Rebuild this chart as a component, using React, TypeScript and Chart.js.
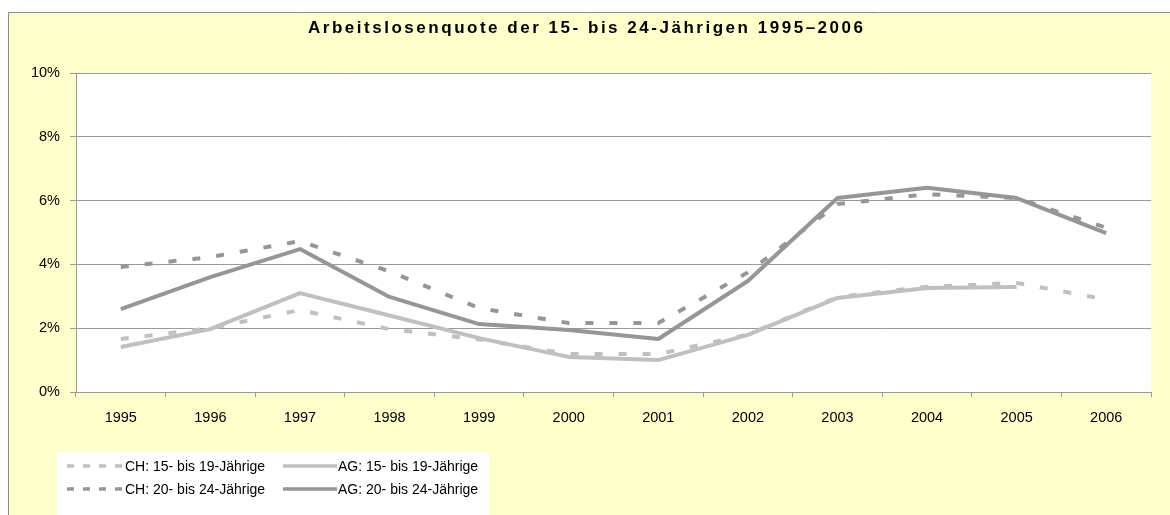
import React, { useEffect, useRef } from "react";
import { Chart, registerables } from "chart.js";

Chart.register(...registerables);

const years = ["1995", "1996", "1997", "1998", "1999", "2000", "2001", "2002", "2003", "2004", "2005", "2006"];
const chYoung = [1.66, 2.0, 2.57, 1.97, 1.65, 1.19, 1.19, 1.8, 2.98, 3.3, 3.42, 2.9];
const agYoung = [1.41, 1.97, 3.1, 2.4, 1.69, 1.1, 1.0, 1.79, 2.95, 3.26, 3.29, null];
const chOld = [3.92, 4.23, 4.73, 3.78, 2.63, 2.16, 2.16, 3.75, 5.89, 6.2, 6.08, 5.15];
const agOld = [2.6, 3.6, 4.48, 2.98, 2.13, 1.94, 1.66, 3.48, 6.08, 6.4, 6.08, 4.98];
const seriesLabels = ["CH: 15- bis 19-Jährige", "AG: 15- bis 19-Jährige", "CH: 20- bis 24-Jährige", "AG: 20- bis 24-Jährige"];
const titleText = "Arbeitslosenquote der 15- bis 24-Jährigen 1995–2006";

const LIGHT = "#C0C0C0";
const DARK = "#969696";
const GRID = "#9A9A9A";
const FONT = "'Liberation Sans', Arial, sans-serif";

const framePlugin = {
  id: "frame",
  beforeDraw(chart: any) {
    const ctx = chart.ctx;
    const { width, height } = chart;
    ctx.save();
    ctx.fillStyle = "#FFFFFF";
    ctx.fillRect(0, 0, width, height);
    ctx.fillStyle = "#FFFFCC";
    ctx.fillRect(8, 12, width - 8, height - 12);
    ctx.strokeStyle = "#8C8C8C";
    ctx.lineWidth = 1;
    ctx.beginPath();
    ctx.moveTo(8.5, height);
    ctx.lineTo(8.5, 12.5);
    ctx.lineTo(width, 12.5);
    ctx.stroke();
    const a = chart.chartArea;
    ctx.fillStyle = "#FFFFFF";
    ctx.fillRect(a.left, a.top, a.right - a.left, a.bottom - a.top);
    ctx.restore();
  },
  afterDraw(chart: any) {
    const ctx = chart.ctx;
    ctx.save();
    // title
    ctx.font = `bold 17px ${FONT}`;
    ctx.fillStyle = "#000000";
    ctx.textBaseline = "alphabetic";
    ctx.textAlign = "left";
    (ctx as any).letterSpacing = "0px";
    const w0 = ctx.measureText(titleText).width;
    const n = Array.from(titleText).length;
    const sp = (555 - w0) / (n - 1);
    (ctx as any).letterSpacing = `${sp}px`;
    ctx.fillText(titleText, 308, 33);
    (ctx as any).letterSpacing = "0px";

    // legend
    ctx.fillStyle = "#FFFFFF";
    ctx.fillRect(57, 452, 432, chart.height - 452);
    const ds = chart.data.datasets;
    const cols = [
      { x0: 67, x1: 124, tx: 125 },
      { x0: 283, x1: 337, tx: 338 },
    ];
    const rows = [466, 489];
    ctx.font = `14px ${FONT}`;
    ctx.textBaseline = "middle";
    ds.forEach((d: any, i: number) => {
      const c = cols[i % 2];
      const y = rows[Math.floor(i / 2)];
      ctx.strokeStyle = d.borderColor;
      ctx.lineWidth = 3.5;
      ctx.lineCap = "butt";
      ctx.setLineDash(d.borderDash ? [7, 9] : []);
      ctx.beginPath();
      ctx.moveTo(c.x0, y);
      ctx.lineTo(c.x1, y);
      ctx.stroke();
      ctx.setLineDash([]);
      ctx.fillStyle = "#000000";
      ctx.fillText(d.label, c.tx, y + 1);
    });
    ctx.restore();
  },
};

export default function App() {
  const ref = useRef<HTMLCanvasElement>(null);
  useEffect(() => {
    if (!ref.current) return;
    const chart = new Chart(ref.current, {
      type: "line",
      data: {
        labels: years,
        datasets: [
          { label: seriesLabels[0], data: chYoung, borderColor: LIGHT, borderDash: [8, 16], borderWidth: 4, pointRadius: 0, order: 3 },
          { label: seriesLabels[1], data: agYoung, borderColor: LIGHT, borderWidth: 4, pointRadius: 0, order: 1 },
          { label: seriesLabels[2], data: chOld, borderColor: DARK, borderDash: [8, 16], borderWidth: 4, pointRadius: 0, order: 4 },
          { label: seriesLabels[3], data: agOld, borderColor: DARK, borderWidth: 4, pointRadius: 0, order: 2 },
        ] as any,
      },
      options: {
        responsive: false,
        animation: false,
        events: [],
        layout: { padding: { left: 20, right: 19, top: 73, bottom: 83 } },
        elements: { line: { tension: 0, borderCapStyle: "butt", borderJoinStyle: "round" } },
        plugins: { legend: { display: false }, title: { display: false }, tooltip: { enabled: false } },
        scales: {
          x: {
            offset: true,
            grid: { offset: true, drawOnChartArea: false, drawTicks: true, tickLength: 5, color: GRID },
            border: { color: GRID, width: 1 },
            ticks: { color: "#000000", font: { family: FONT, size: 14.5 }, padding: 12, maxRotation: 0, autoSkip: false },
            afterFit(s: any) { s.height = 40; },
          },
          y: {
            min: 0,
            max: 10,
            grid: { color: GRID, tickLength: 6, lineWidth: 1 },
            border: { color: GRID, width: 1 },
            ticks: { stepSize: 2, color: "#000000", font: { family: FONT, size: 14.5 }, padding: 10, callback: (v: any) => `${v}%` },
            afterFit(s: any) { s.width = 56; },
          },
        },
      },
      plugins: [framePlugin],
    });
    return () => chart.destroy();
  }, []);
  return (
    <div style={{ position: "fixed", left: 0, top: 0, width: 1170, height: 515 }}>
      <canvas ref={ref} width={1170} height={515} style={{ display: "block" }} />
    </div>
  );
}
